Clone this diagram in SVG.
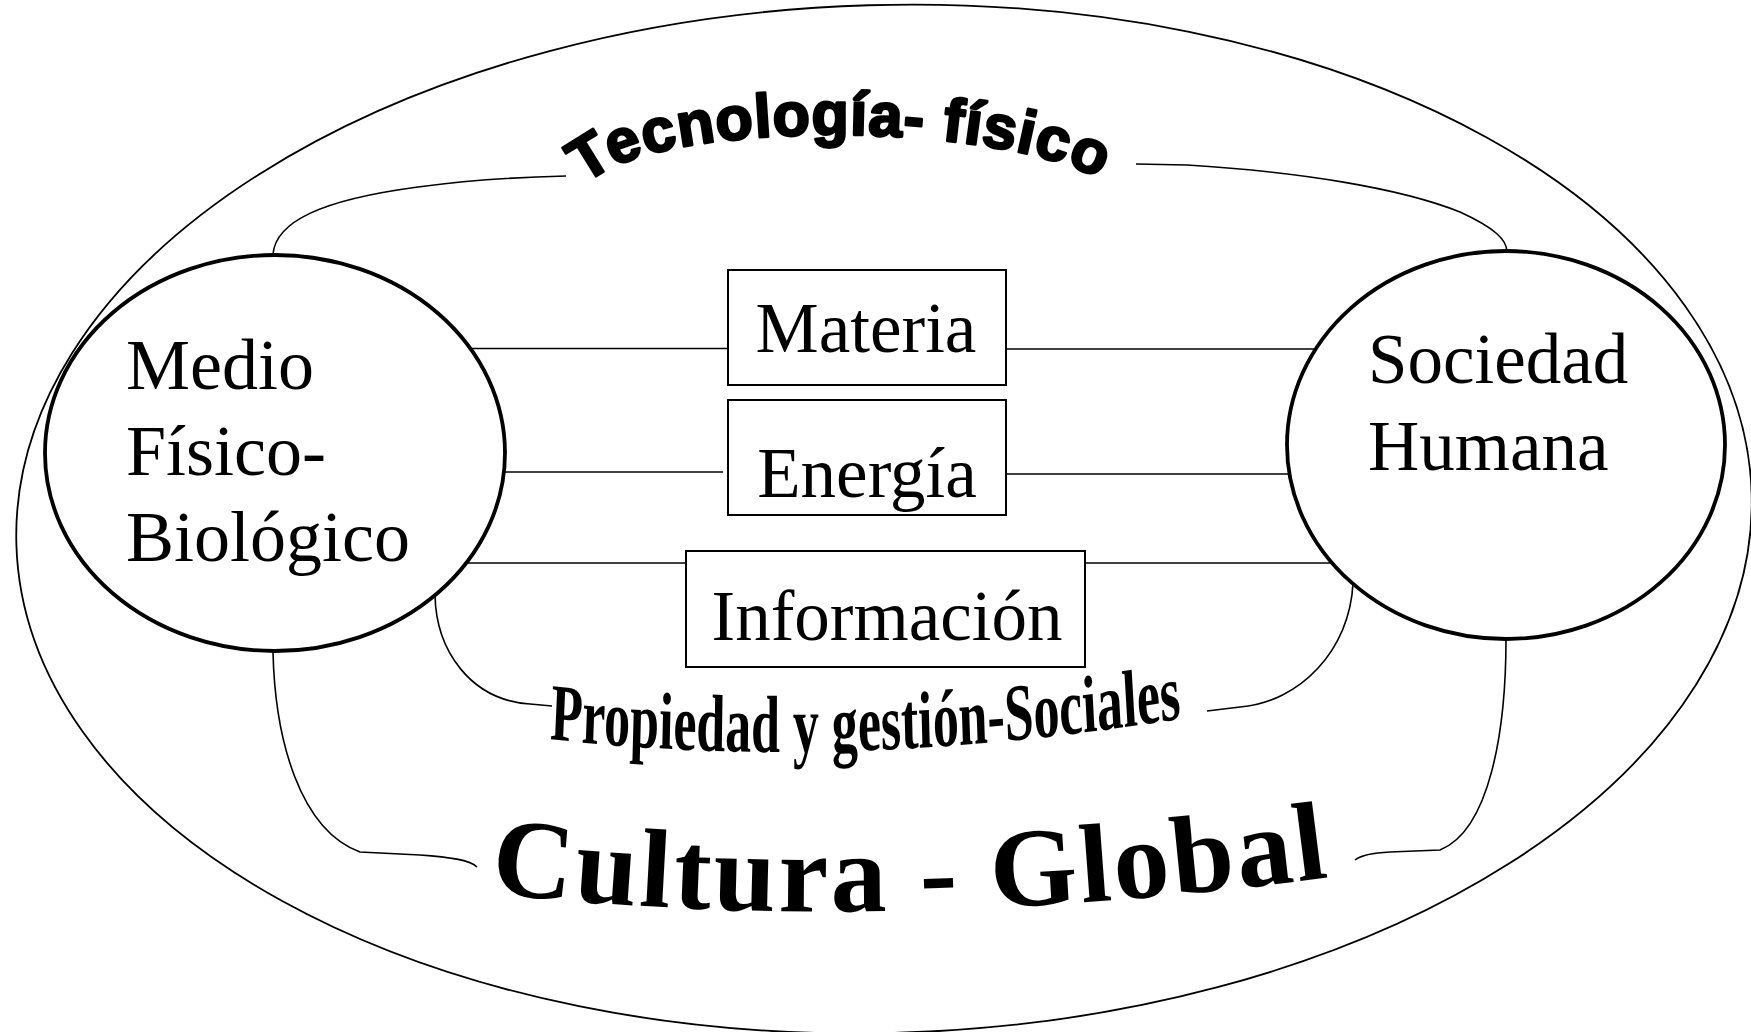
<svg xmlns="http://www.w3.org/2000/svg" width="1751" height="1032" viewBox="0 0 1751 1032">
<style>
  .bg { fill: #ffffff; }
  .outer { fill: none; stroke: #000; stroke-width: 1.8; }
  .circle { fill: #fff; stroke: #000; stroke-width: 3.8; }
  .box { fill: #fff; stroke: #000; stroke-width: 2; }
  .conn { fill: none; stroke: #000; stroke-width: 1.6; }
  .serif { font-family: "Liberation Serif", "Times New Roman", serif; fill: #000; }
  .lbl { font-size: 71px; }
  .sans { font-family: "Liberation Sans", Arial, sans-serif; fill: #000; }
</style>
<defs>
  <path id="arcTec" d="M585,185 C658,115 1010,122 1104,182"/>
  <path id="arcProp" d="M855,739 Q1330,774 1880,714"/>
  <path id="arcCult" d="M490,893 Q880,937 1340,876"/>
</defs>
<rect class="bg" x="0" y="0" width="1751" height="1032"/>

<g id="cultura-global">
  <ellipse class="outer" cx="884" cy="519" rx="868" ry="514" transform="rotate(-1.7 884 519)"/>
</g>

<g id="connectors">
  <path class="conn" d="M273,254 C276,222 320,200 418,187 C470,180 520,177 566,176"/>
  <path class="conn" d="M1136,164 L1187,165 C1300,172 1400,188 1460,212 C1495,228 1507,240 1507,252"/>
  <path class="conn" d="M435,595 C436,650 470,700 530,704 L552,706"/>
  <path class="conn" d="M1353,583 C1350,650 1300,702 1240,707 L1207,711"/>
  <path class="conn" d="M273,652 C275,740 300,830 360,852 L420,855 C450,857 470,860 477,867"/>
  <path class="conn" d="M1506,639 C1506,730 1490,830 1440,850 L1390,852 C1370,853 1360,856 1355,860"/>
  <line class="conn" x1="470" y1="348.5" x2="728" y2="348.5"/>
  <line class="conn" x1="1006" y1="349" x2="1317" y2="349"/>
  <line class="conn" x1="505" y1="472" x2="723" y2="472"/>
  <line class="conn" x1="1006" y1="474" x2="1289" y2="474"/>
  <line class="conn" x1="466" y1="563" x2="686" y2="563"/>
  <line class="conn" x1="1085" y1="563" x2="1333" y2="563"/>
</g>

<g id="node-medio">
  <ellipse class="circle" cx="275" cy="453" rx="230" ry="198"/>
  <text class="serif" font-size="72" x="126" y="389">Medio</text>
  <text class="serif" font-size="72" x="126" y="475">Físico-</text>
  <text class="serif" font-size="72" x="126" y="561">Biológico</text>
</g>

<g id="node-sociedad">
  <ellipse class="circle" cx="1506" cy="445" rx="219" ry="194"/>
  <text class="serif" font-size="71" x="1368" y="383">Sociedad</text>
  <text class="serif" font-size="71" x="1368" y="470">Humana</text>
</g>

<g id="node-materia">
  <rect class="box" x="728" y="270" width="278" height="115"/>
  <text class="serif lbl" x="866" y="352" text-anchor="middle">Materia</text>
</g>

<g id="node-energia">
  <rect class="box" x="728" y="400" width="278" height="115"/>
  <text class="serif lbl" x="867" y="497" text-anchor="middle">Energía</text>
</g>

<g id="node-informacion">
  <rect class="box" x="686" y="551" width="399" height="116"/>
  <text class="serif lbl" x="887" y="640" text-anchor="middle">Información</text>
</g>

<g id="arc-labels">
  <text class="sans" font-size="61" font-weight="bold" letter-spacing="0.9" stroke="#000" stroke-width="2.6" stroke-linejoin="round"><textPath href="#arcTec">Tecnología- físico</textPath></text>
  <text class="serif" font-size="81" font-weight="bold" transform="scale(0.643,1)"><textPath href="#arcProp">Propiedad y gestión-Sociales</textPath></text>
  <text class="serif" font-size="112" font-weight="bold" letter-spacing="3"><textPath href="#arcCult">Cultura - Global</textPath></text>
</g>
</svg>
